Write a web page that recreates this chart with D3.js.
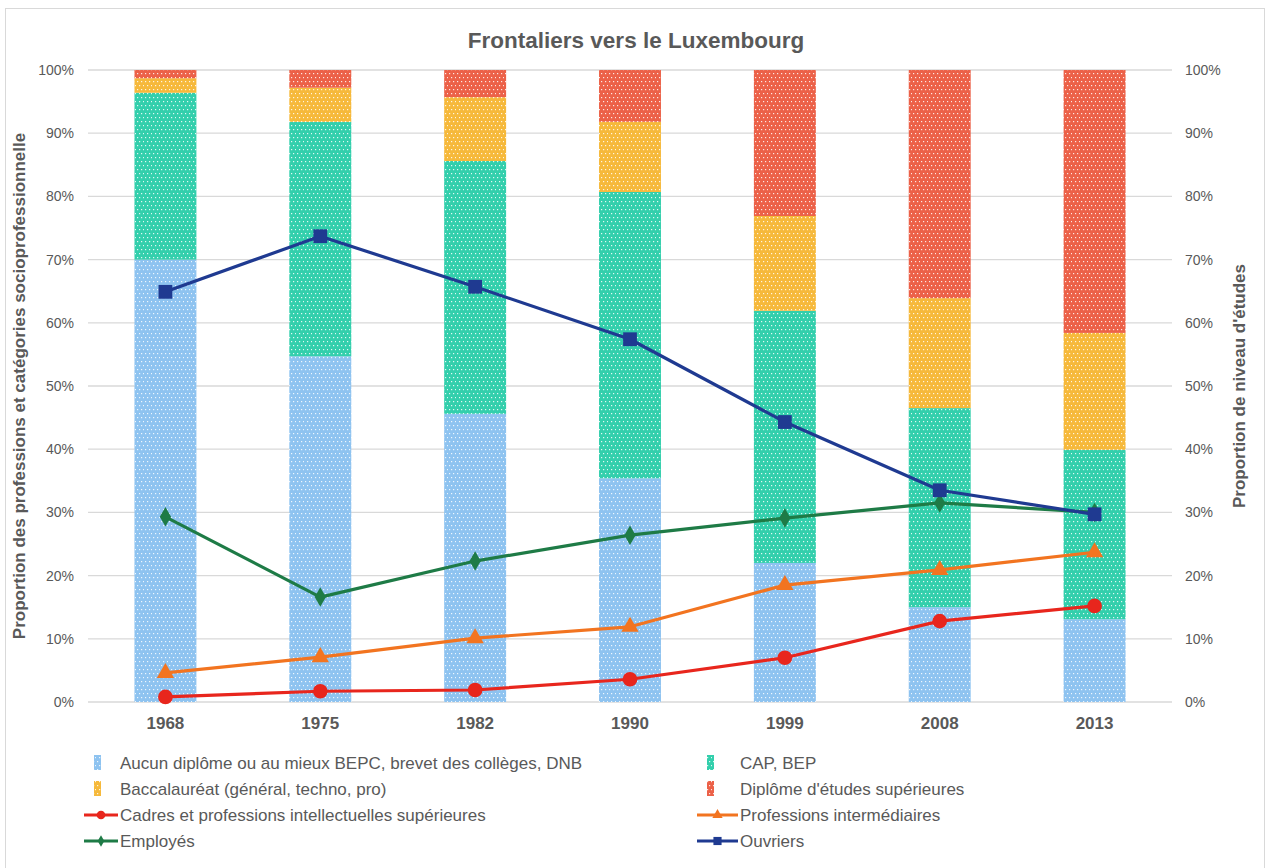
<!DOCTYPE html>
<html><head><meta charset="utf-8">
<script src="https://cdn.jsdelivr.net/npm/d3@7"></script>
<style>body{margin:0;background:#fff;font-family:"Liberation Sans",Arial,sans-serif}</style>
</head><body>
<svg id="c" width="1266" height="868"></svg>
<script>
const years = ["1968","1975","1982","1990","1999","2008","2013"];
const aucun = [70.0, 54.7, 45.6, 35.4, 22.0, 15.0, 13.1];
const capBep = [26.4, 37.1, 40.0, 45.3, 39.9, 31.5, 26.8];
const bac = [2.3, 5.4, 10.1, 11.1, 15.0, 17.4, 18.5];
const superieur = [1.3, 2.8, 4.3, 8.2, 23.1, 36.1, 41.6];
const cadres = [0.8, 1.7, 1.9, 3.6, 7.0, 12.8, 15.2];
const intermediaires = [4.6, 7.1, 10.1, 11.9, 18.5, 20.9, 23.7];
const employes = [29.3, 16.6, 22.3, 26.4, 29.1, 31.5, 30.0];
const ouvriers = [64.9, 73.7, 65.7, 57.4, 44.3, 33.5, 29.7];
const yTicks = [0,10,20,30,40,50,60,70,80,90,100];

const barSeries = [
  {name:"Aucun diplôme ou au mieux BEPC, brevet des collèges, DNB", values:aucun, color:"#8ec3f0", id:"pBlue"},
  {name:"CAP, BEP", values:capBep, color:"#33cfac", id:"pTeal"},
  {name:"Baccalauréat (général, techno, pro)", values:bac, color:"#f6b93b", id:"pYellow"},
  {name:"Diplôme d'études supérieures", values:superieur, color:"#ec6148", id:"pRed"}
];
const lineSeries = [
  {name:"Cadres et professions intellectuelles supérieures", values:cadres, color:"#e8261d", sym:d3.symbolCircle, size:170},
  {name:"Professions intermédiaires", values:intermediaires, color:"#f27420", sym:d3.symbolTriangle, size:130},
  {name:"Employés", values:employes, color:"#1e7b46", sym:d3.symbolDiamond, size:110},
  {name:"Ouvriers", values:ouvriers, color:"#1f3a91", sym:d3.symbolSquare, size:190}
];

const svg = d3.select("#c");
svg.append("rect").attr("x",5.5).attr("y",8.5).attr("width",1259).attr("height",870).attr("fill","#fff").attr("stroke","#d9d9d9");

const defs = svg.append("defs");
barSeries.forEach(s=>{
  const p = defs.append("pattern").attr("id",s.id).attr("patternUnits","userSpaceOnUse").attr("width",8).attr("height",8);
  p.append("rect").attr("width",8).attr("height",8).attr("fill",s.color);
  [[1,1],[5,1],[3,5],[7,5]].forEach(([x,y])=>{
    p.append("rect").attr("x",x).attr("y",y).attr("width",1.2).attr("height",1.2).attr("fill","#fff").attr("opacity",0.85);
  });
});

const m = {left:88, right:1172, top:70, bottom:702};
const x = d3.scaleBand().domain(years).range([m.left,m.right]).paddingInner(0.6).paddingOuter(0.3);
const y = d3.scaleLinear().domain([0,100]).range([m.bottom,m.top]);
const grey="#595959";

svg.append("g").selectAll("line").data(yTicks).join("line")
  .attr("x1",m.left).attr("x2",m.right).attr("y1",d=>y(d)).attr("y2",d=>y(d))
  .attr("stroke","#d9d9d9").attr("stroke-width",1.3);

const rows = years.map((yr,i)=>{const o={year:yr}; barSeries.forEach((s,k)=>o["s"+k]=s.values[i]); return o;});
const stack = d3.stack().keys(barSeries.map((s,k)=>"s"+k))(rows);
stack.forEach((layer,k)=>{
  svg.append("g").selectAll("rect").data(layer).join("rect")
    .attr("x",d=>x(d.data.year)).attr("width",x.bandwidth())
    .attr("y",d=>y(Math.min(100,d[1]))).attr("height",d=>y(d[0])-y(Math.min(100,d[1])))
    .attr("fill",`url(#${barSeries[k].id})`);
});

const lab = svg.append("g").attr("font-size",14).attr("fill",grey);
yTicks.forEach(t=>{
  lab.append("text").attr("x",74).attr("y",y(t)+5).attr("text-anchor","end").text(t+"%");
  lab.append("text").attr("x",1185).attr("y",y(t)+5).attr("text-anchor","start").text(t+"%");
});
svg.append("g").selectAll("text").data(years).join("text")
  .attr("x",d=>x(d)+x.bandwidth()/2).attr("y",729).attr("text-anchor","middle")
  .attr("font-size",17).attr("font-weight","bold").attr("fill",grey).text(d=>d);

const cx = (i)=>x(years[i])+x.bandwidth()/2;
lineSeries.forEach(s=>{
  const line = d3.line().x((d,i)=>cx(i)).y(d=>y(d));
  svg.append("path").attr("d",line(s.values)).attr("fill","none").attr("stroke",s.color).attr("stroke-width",3.2).attr("stroke-linejoin","round");
  svg.append("g").selectAll("path").data(s.values).join("path")
    .attr("transform",(d,i)=>`translate(${cx(i)},${y(d)})`)
    .attr("d",d3.symbol().type(s.sym).size(s.size)).attr("fill",s.color);
});

svg.append("text").attr("x",636).attr("y",48).attr("text-anchor","middle").attr("font-size",22.5).attr("font-weight","bold").attr("fill",grey).text("Frontaliers vers le Luxembourg");
svg.append("text").attr("transform",`translate(25,386) rotate(-90)`).attr("text-anchor","middle").attr("font-size",17).attr("font-weight","bold").attr("fill",grey).text("Proportion des professions et catégories socioprofessionnelle");
svg.append("text").attr("transform",`translate(1245,386) rotate(-90)`).attr("text-anchor","middle").attr("font-size",17).attr("font-weight","bold").attr("fill",grey).text("Proportion de niveau d'études");

const leg = svg.append("g").attr("font-size",17).attr("fill",grey);
const legX=[84,697], textX=[120,740], rowsY=[763,789,815,841];
barSeries.forEach((s,i)=>{
  const col=i%2, row=Math.floor(i/2);
  leg.append("rect").attr("x",legX[col]+10).attr("y",rowsY[row]-8).attr("width",7).attr("height",15).attr("fill",`url(#${s.id})`);
  leg.append("text").attr("x",textX[col]).attr("y",rowsY[row]+6).text(s.name);
});
lineSeries.forEach((s,i)=>{
  const col=i%2, row=2+Math.floor(i/2);
  const x0=legX[col], x1=textX[col]-2, yy=rowsY[row];
  leg.append("line").attr("x1",x0).attr("x2",x1).attr("y1",yy).attr("y2",yy).attr("stroke",s.color).attr("stroke-width",3);
  leg.append("path").attr("transform",`translate(${(x0+x1)/2},${yy})`).attr("d",d3.symbol().type(s.sym).size(s.size*0.35)).attr("fill",s.color);
  leg.append("text").attr("x",textX[col]).attr("y",yy+6).text(s.name);
});
</script>
</body></html>
